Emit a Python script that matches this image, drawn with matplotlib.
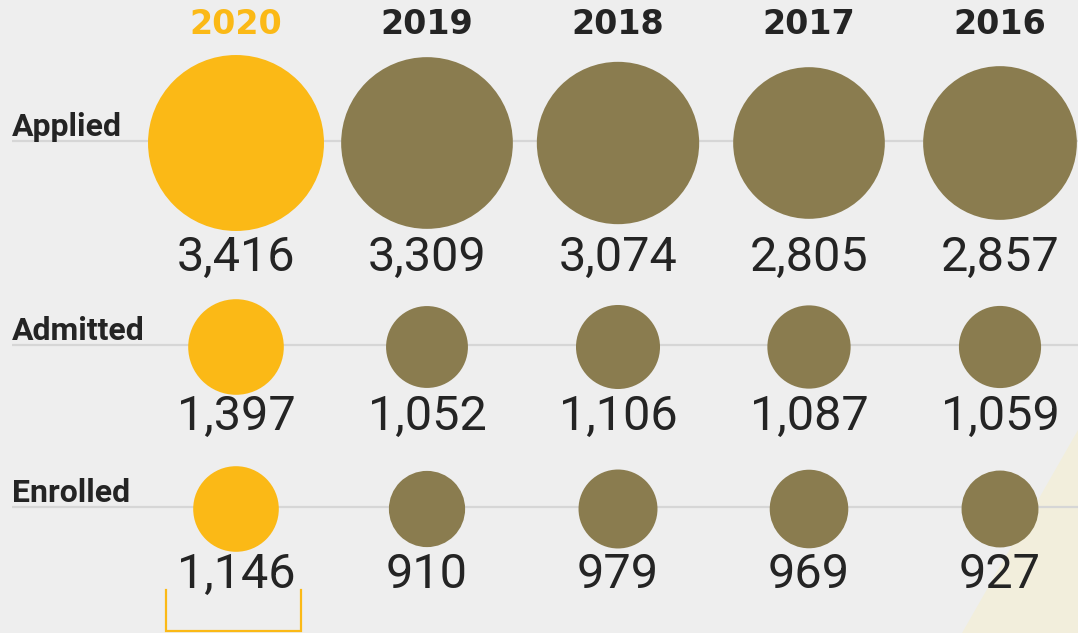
import numpy as np
import matplotlib
matplotlib.use("Agg")
import matplotlib.pyplot as plt
from matplotlib.patches import Circle, Polygon

# data
years = ['2020', '2019', '2018', '2017', '2016']
stages = ['Applied', 'Admitted', 'Enrolled']
applied = [3416, 3309, 3074, 2805, 2857]
admitted = [1397, 1052, 1106, 1087, 1059]
enrolled = [1146, 910, 979, 969, 927]

YELLOW = '#FBB916'
OLIVE = '#8A7C4F'
DARK = '#242424'

W, H = 1078, 633
fig = plt.figure(figsize=(W / 100, H / 100), dpi=100)
fig.patch.set_facecolor('#EEEEEE')
ax = fig.add_axes([0, 0, 1, 1])
ax.set_xlim(0, W)
ax.set_ylim(H, 0)
ax.set_aspect('equal')
ax.axis('off')

# faint beige wedge bottom right
ax.add_patch(Polygon([(1078, 430), (1078, 633), (962, 633)], closed=True,
                     facecolor='#F2EEDC', edgecolor='none', zorder=0))

col_x = np.linspace(236, 1000, len(years))
row_y = [143, 347, 509]
label_y = [258, 417, 575]

def diameter(v):
    # circle diameter (px) grows with the value
    return 40 + 0.0398 * v

rows = [applied, admitted, enrolled]
for r, (name, vals) in enumerate(zip(stages, rows)):
    y = row_y[r]
    ax.plot([12, W], [y - 2, y - 2], color='#D6D6D6', lw=1.6, zorder=1,
            solid_capstyle='butt')
    ax.text(12, y - 7, name, ha='left', va='baseline', fontsize=23,
            fontweight='bold', color=DARK,
            family=['Roboto', 'DejaVu Sans'], zorder=3)
    for i, v in enumerate(vals):
        c = YELLOW if i == 0 else OLIVE
        ax.add_patch(Circle((col_x[i], y), diameter(v) / 2, facecolor=c,
                            edgecolor='none', zorder=2))
        ax.text(col_x[i], label_y[r], f'{v:,}', ha='center', va='center',
                fontsize=35, fontweight='normal', color=DARK,
                family=['Roboto', 'DejaVu Sans'], zorder=3)

for i, yr in enumerate(years):
    ax.text(col_x[i], 25, yr, ha='center', va='center', fontsize=24,
            fontweight='heavy', color=YELLOW if i == 0 else DARK,
            family=['DejaVu Sans'])

# bracket under the highlighted column
ax.plot([166, 166, 301, 301], [590, 631, 631, 590], color=YELLOW, lw=1.6,
        solid_joinstyle='miter')

plt.savefig('out.png', dpi=100, facecolor=fig.get_facecolor())
